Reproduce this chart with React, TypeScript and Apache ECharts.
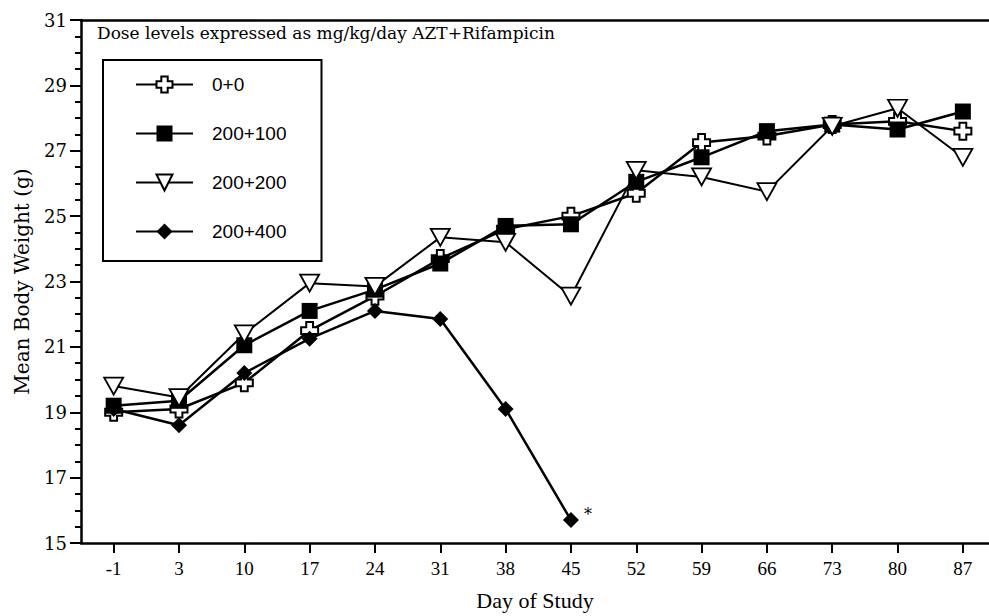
import React, { useEffect, useRef } from 'react';
import * as echarts from 'echarts';

const days = ['-1', '3', '10', '17', '24', '31', '38', '45', '52', '59', '66', '73', '80', '87'];
const seriesNames = ['0+0', '200+100', '200+200', '200+400'];
const s00 = [19.0, 19.1, 19.9, 21.5, 22.55, 23.7, 24.6, 25.0, 25.7, 27.25, 27.45, 27.8, 27.9, 27.6];
const s100 = [19.2, 19.35, 21.05, 22.1, 22.75, 23.55, 24.7, 24.75, 26.05, 26.8, 27.6, 27.8, 27.65, 28.2];
const s200 = [19.8, 19.45, 21.4, 22.95, 22.85, 24.35, 24.2, 22.55, 26.4, 26.2, 25.75, 27.75, 28.3, 26.8];
const s400 = [19.1, 18.6, 20.2, 21.25, 22.1, 21.85, 19.1, 15.7];
const yTicks = { min: 15, max: 31, step: 2 };
const titleText = 'Dose levels expressed as mg/kg/day AZT+Rifampicin';

const crossPath = 'path://M3,0H7V3H10V7H7V10H3V7H0V3H3Z';
const triPath = 'path://M0,0L10,0L5,9Z';
const diamondPath = 'path://M5,0L10,5L5,10L0,5Z';

export default function App() {
  const ref = useRef<HTMLDivElement>(null);
  useEffect(() => {
    const chart = echarts.init(ref.current!, null, { renderer: 'svg' });
    const idx = days.map((_, i) => i);
    const pts = (vals: number[]) => vals.map((v, i) => [i, v]);
    const d400: any[] = pts(s400);
    d400[d400.length - 1] = {
      value: d400[d400.length - 1],
      label: { show: true, formatter: '*', position: 'right', offset: [0, -6], fontSize: 16, color: '#000', fontFamily: 'DejaVu Serif' },
    };
    const common = { type: 'line', silent: true, emphasis: { disabled: true } };
    const option: any = {
      animation: false,
      backgroundColor: '#fff',
      title: {
        text: titleText,
        left: 97,
        top: 24,
        padding: 0,
        textStyle: { fontFamily: 'DejaVu Serif', fontSize: 17, fontWeight: 'normal', color: '#000' },
      },
      legend: {
        orient: 'vertical',
        left: 103,
        top: 60,
        itemWidth: 57,
        itemHeight: 20,
        itemGap: 30,
        padding: [15, 35, 20, 32],
        borderColor: '#000',
        borderWidth: 2,
        selectedMode: false,
        textStyle: { fontFamily: 'Liberation Sans', fontSize: 19, color: '#000', padding: [0, 0, 0, 14] },
        data: seriesNames,
      },
      grid: { left: 81, right: 0, top: 20, bottom: 71, containLabel: false },
      xAxis: [
        {
          type: 'value',
          min: -0.5,
          max: 13.4,
          axisLine: { show: true, onZero: false, lineStyle: { color: '#000', width: 2.5 } },
          axisTick: { show: true, customValues: idx, length: 10, lineStyle: { color: '#000', width: 2 } },
          axisLabel: {
            customValues: idx,
            formatter: (v: number) => days[Math.round(v)] ?? '',
            margin: 16,
            fontFamily: 'Liberation Serif',
            fontSize: 19,
            color: '#000',
          },
          splitLine: { show: false },
          name: 'Day of Study',
          nameLocation: 'middle',
          nameGap: 46,
          nameTextStyle: { fontFamily: 'Liberation Serif', fontSize: 22, color: '#000' },
        },
        {
          type: 'value',
          position: 'top',
          min: -0.5,
          max: 13.4,
          axisLine: { show: true, onZero: false, lineStyle: { color: '#000', width: 2.5 } },
          axisTick: { show: false },
          axisLabel: { show: false },
          splitLine: { show: false },
        },
      ],
      yAxis: {
        type: 'value',
        min: yTicks.min,
        max: yTicks.max,
        interval: yTicks.step,
        axisLine: { show: true, onZero: false, lineStyle: { color: '#000', width: 2.5 } },
        axisTick: { show: true, length: 11, lineStyle: { color: '#000', width: 2 } },
        minorTick: { show: true, splitNumber: 4, length: 6, lineStyle: { color: '#000', width: 2 } },
        axisLabel: { margin: 14, fontFamily: 'DejaVu Serif', fontSize: 18, color: '#000' },
        splitLine: { show: false },
        name: 'Mean Body Weight (g)',
        nameLocation: 'middle',
        nameRotate: 90,
        nameGap: 49,
        nameTextStyle: { fontFamily: 'DejaVu Serif', fontSize: 20, color: '#000' },
      },
      series: [
        {
          ...common,
          name: seriesNames[0],
          data: pts(s00),
          symbol: crossPath,
          symbolSize: 17,
          itemStyle: { color: '#fff', borderColor: '#000', borderWidth: 2 },
          lineStyle: { color: '#000', width: 2.5 },
        },
        {
          ...common,
          name: seriesNames[1],
          data: pts(s100),
          symbol: 'rect',
          symbolSize: 16,
          itemStyle: { color: '#000', borderColor: '#000', borderWidth: 0 },
          lineStyle: { color: '#000', width: 2.5 },
        },
        {
          ...common,
          name: seriesNames[2],
          data: pts(s200),
          symbol: triPath,
          symbolSize: [19, 17],
          itemStyle: { color: '#fff', borderColor: '#000', borderWidth: 1.8 },
          lineStyle: { color: '#000', width: 2 },
        },
        {
          ...common,
          name: seriesNames[3],
          data: d400,
          symbol: diamondPath,
          symbolSize: 16,
          itemStyle: { color: '#000', borderColor: '#000', borderWidth: 0 },
          lineStyle: { color: '#000', width: 2.5 },
        },
      ],
    };
    chart.setOption(option);
    return () => chart.dispose();
  }, []);
  return <div ref={ref} style={{ position: 'absolute', left: 0, top: 0, width: 989, height: 616 }} />;
}
